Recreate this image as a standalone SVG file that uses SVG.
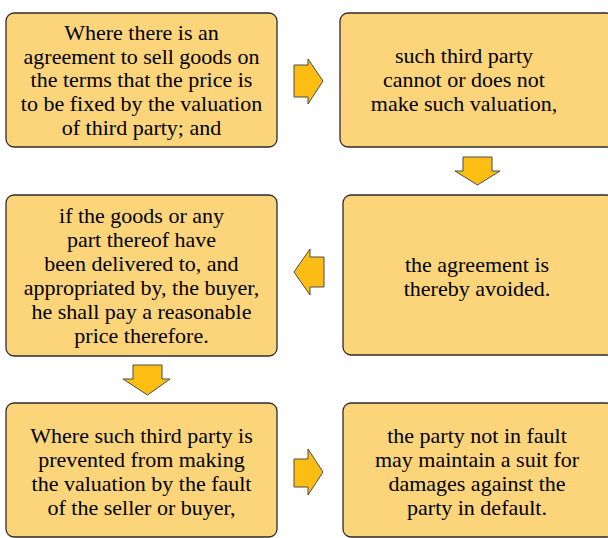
<svg xmlns="http://www.w3.org/2000/svg" width="608" height="538" viewBox="0 0 608 538">
<style>
.box{fill:#FCD57B;stroke:#2b2b2b;stroke-width:1.3}
.arr{fill:#FDBE14;stroke:#4a4a4a;stroke-width:1}
</style>
<rect width="608" height="538" fill="#ffffff"/>
<g id="connectors">
<polygon class="arr" points="294,65 308,65 308,59 323,81 308,104 308,97 294,97"/>
<polygon class="arr" points="463,157 492,157 492,171 500,171 477.5,185 455,171 463,171"/>
<polygon class="arr" points="324,257 310,257 310,249 294,272 310,295 310,287 324,287"/>
<polygon class="arr" points="133,365 162,365 162,379 170,379 147.5,395 123,379 133,379"/>
<polygon class="arr" points="294,459 308,459 308,449 323,472 308,495 308,487 294,487"/>
</g>
<g id="n1">
<rect class="box" x="6" y="13" width="271" height="134" rx="8"/>
<text font-family="Times New Roman" font-size="22" text-anchor="middle" x="141.5" y="40">Where there is an</text>
<text font-family="Times New Roman" font-size="22" text-anchor="middle" x="141.5" y="63.5">agreement to sell goods on</text>
<text font-family="Times New Roman" font-size="22" text-anchor="middle" x="141.5" y="87">the terms that the price is</text>
<text font-family="Times New Roman" font-size="22" text-anchor="middle" x="141.5" y="111">to be fixed by the valuation</text>
<text font-family="Times New Roman" font-size="22" text-anchor="middle" x="141.5" y="135">of third party; and</text>
</g>
<g id="n2">
<rect class="box" x="340" y="13" width="274" height="134" rx="8"/>
<text font-family="Times New Roman" font-size="22" text-anchor="middle" x="464" y="63">such third party</text>
<text font-family="Times New Roman" font-size="22" text-anchor="middle" x="464" y="87">cannot or does not</text>
<text font-family="Times New Roman" font-size="22" text-anchor="middle" x="464" y="111">make such valuation,</text>
</g>
<g id="n3">
<rect class="box" x="6" y="195" width="271" height="161" rx="8"/>
<text font-family="Times New Roman" font-size="22" text-anchor="middle" x="141.5" y="223">if the goods or any</text>
<text font-family="Times New Roman" font-size="22" text-anchor="middle" x="141.5" y="247">part thereof have</text>
<text font-family="Times New Roman" font-size="22" text-anchor="middle" x="141.5" y="271">been delivered to, and</text>
<text font-family="Times New Roman" font-size="22" text-anchor="middle" x="141.5" y="295">appropriated by, the buyer,</text>
<text font-family="Times New Roman" font-size="22" text-anchor="middle" x="141.5" y="319">he shall pay a reasonable</text>
<text font-family="Times New Roman" font-size="22" text-anchor="middle" x="141.5" y="343">price therefore.</text>
</g>
<g id="n4">
<rect class="box" x="343" y="195" width="271" height="160" rx="8"/>
<text font-family="Times New Roman" font-size="22" text-anchor="middle" x="477" y="272">the agreement is</text>
<text font-family="Times New Roman" font-size="22" text-anchor="middle" x="477" y="296">thereby avoided.</text>
</g>
<g id="n5">
<rect class="box" x="6" y="403" width="271" height="134" rx="8"/>
<text font-family="Times New Roman" font-size="22" text-anchor="middle" x="141.5" y="443">Where such third party is</text>
<text font-family="Times New Roman" font-size="22" text-anchor="middle" x="141.5" y="467">prevented from making</text>
<text font-family="Times New Roman" font-size="22" text-anchor="middle" x="141.5" y="491">the valuation by the fault</text>
<text font-family="Times New Roman" font-size="22" text-anchor="middle" x="141.5" y="515">of the seller or buyer,</text>
</g>
<g id="n6">
<rect class="box" x="343" y="403" width="271" height="134" rx="8"/>
<text font-family="Times New Roman" font-size="22" text-anchor="middle" x="477" y="443">the party not in fault</text>
<text font-family="Times New Roman" font-size="22" text-anchor="middle" x="477" y="467">may maintain a suit for</text>
<text font-family="Times New Roman" font-size="22" text-anchor="middle" x="477" y="491">damages against the</text>
<text font-family="Times New Roman" font-size="22" text-anchor="middle" x="477" y="515">party in default.</text>
</g>
</svg>
